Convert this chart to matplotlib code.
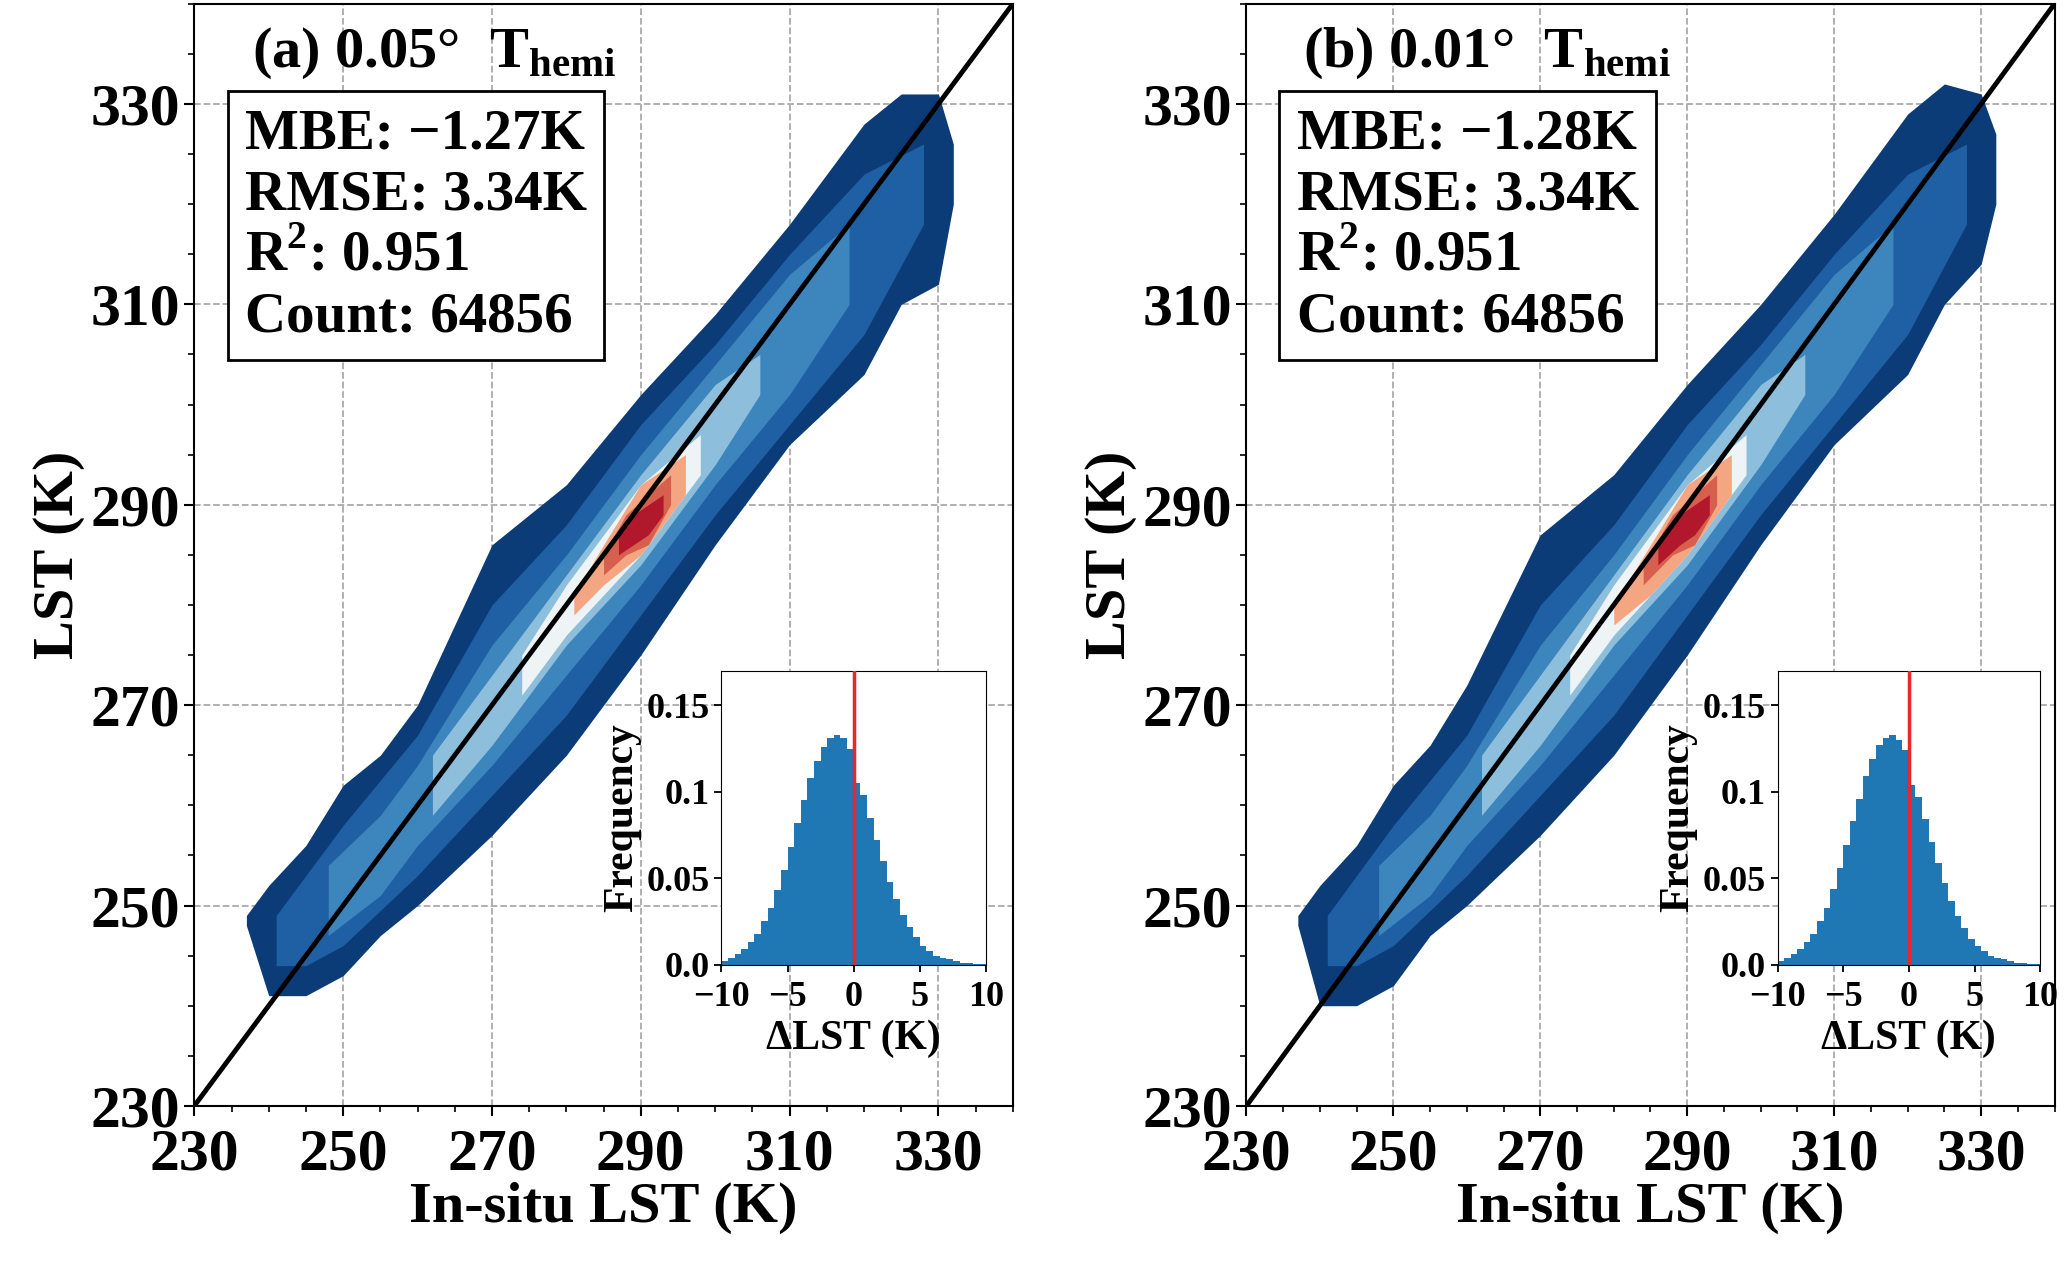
import numpy as np
import matplotlib.pyplot as plt
from matplotlib.ticker import MultipleLocator, FixedLocator, FixedFormatter

plt.rcParams['font.family'] = ['Liberation Serif', 'DejaVu Serif']
plt.rcParams['font.weight'] = 'bold'
plt.rcParams['mathtext.fontset'] = 'custom'
plt.rcParams['mathtext.rm'] = 'Liberation Serif:bold'
plt.rcParams['mathtext.bf'] = 'Liberation Serif:bold'

# density band outlines (x in K, lower / upper LST in K)
# each level: (x, lower, upper), outer -> inner
levels_a = [
    ([237, 240, 245, 250, 255, 260, 270, 280, 290, 300, 310, 320, 325, 330, 332],
     [248, 241, 241, 243, 247, 250, 257, 265, 275, 286, 296, 303, 310, 312, 320],
     [249, 252, 256, 262, 265, 270, 286, 292, 301, 309, 318, 328, 331, 331, 326]),
    ([241, 245, 250, 260, 270, 280, 290, 300, 310, 320, 328],
     [244, 244, 246, 253, 261, 269, 279, 289, 298, 307, 318],
     [249, 253, 258, 267, 280, 288, 298, 306, 315, 323, 326]),
    ([248, 255, 260, 270, 280, 290, 300, 310, 318],
     [247, 251, 256, 264, 273, 282, 292, 301, 310],
     [254, 259, 264, 276, 285, 295, 304, 313, 318]),
    ([262, 270, 280, 290, 300, 306],
     [259, 266, 276, 284, 294, 301],
     [265, 273, 283, 293, 302, 305]),
    ([274, 280, 290, 298],
     [271, 277, 285, 293],
     [275, 282, 292, 297]),
    ([281, 285, 290, 296],
     [279, 282, 285, 291],
     [281, 286, 292, 295]),
    ([285, 288, 291, 294],
     [283, 285, 286, 290],
     [285, 289, 291, 293]),
    ([287, 289, 291, 293],
     [285, 286, 287, 289],
     [287, 289, 290, 291]),
]
levels_b = [
    ([237, 240, 245, 250, 255, 260, 270, 280, 290, 300, 310, 320, 325, 330, 332],
     [248, 240, 240, 242, 247, 250, 257, 265, 275, 286, 296, 303, 310, 314, 320],
     [249, 252, 256, 262, 266, 272, 287, 293, 302, 310, 319, 329, 332, 331, 327]),
    ([241, 245, 250, 260, 270, 280, 290, 300, 310, 320, 328],
     [244, 244, 246, 253, 261, 269, 279, 289, 298, 307, 318],
     [249, 253, 258, 267, 280, 288, 298, 306, 315, 323, 326]),
    ([248, 255, 260, 270, 280, 290, 300, 310, 318],
     [247, 251, 256, 264, 273, 282, 292, 301, 310],
     [254, 259, 264, 276, 285, 295, 304, 313, 318]),
    ([262, 270, 280, 290, 300, 306],
     [259, 266, 276, 284, 294, 301],
     [265, 273, 283, 293, 302, 305]),
    ([274, 280, 290, 298],
     [271, 277, 285, 293],
     [275, 282, 292, 297]),
    ([280, 285, 290, 296],
     [278, 281, 285, 291],
     [280, 286, 292, 295]),
    ([284, 288, 291, 294],
     [282, 285, 286, 290],
     [284, 289, 291, 293]),
    ([286, 289, 291, 293],
     [284, 286, 287, 289],
     [286, 289, 290, 291]),
]
level_colors = ['#0b3c78', '#1f5fa3', '#3d85bd', '#8dbfdc', '#eef3f6',
                '#f4a582', '#d6604d', '#b2182b']

# histogram of LST difference (bin centres, frequency)
hist_x = np.arange(-9.75, 10, 0.5)
hist_a = [0.002, 0.004, 0.006, 0.009, 0.013, 0.018, 0.025, 0.033, 0.043, 0.055,
          0.068, 0.082, 0.095, 0.108, 0.118, 0.126, 0.131, 0.133, 0.131, 0.125,
          0.105, 0.098, 0.085, 0.072, 0.060, 0.048, 0.038, 0.029, 0.022, 0.016,
          0.011, 0.008, 0.005, 0.004, 0.003, 0.002, 0.001, 0.001, 0.0005, 0.0003]
hist_b = [0.002, 0.004, 0.006, 0.009, 0.013, 0.018, 0.025, 0.033, 0.044, 0.056,
          0.069, 0.083, 0.096, 0.109, 0.119, 0.127, 0.131, 0.133, 0.130, 0.124,
          0.104, 0.097, 0.084, 0.071, 0.059, 0.047, 0.037, 0.028, 0.021, 0.015,
          0.011, 0.008, 0.005, 0.004, 0.003, 0.002, 0.001, 0.001, 0.0005, 0.0003]

titles = ['(a) 0.05°  T$_{\\mathbf{hemi}}$', '(b) 0.01°  T$_{\\mathbf{hemi}}$']
stats = ['MBE: \u22121.27K\nRMSE: 3.34K\nR$^{\\mathbf{2}}$: 0.951\nCount: 64856',
         'MBE: \u22121.28K\nRMSE: 3.34K\nR$^{\\mathbf{2}}$: 0.951\nCount: 64856']

fig = plt.figure(figsize=(20.67, 12.61), dpi=100)
main_pos = [[0.094, 0.123, 0.396, 0.874], [0.603, 0.123, 0.391, 0.874]]
inset_pos = [[0.349, 0.235, 0.128, 0.233], [0.860, 0.235, 0.127, 0.233]]

for i, (levels, hist) in enumerate([(levels_a, hist_a), (levels_b, hist_b)]):
    ax = fig.add_axes(main_pos[i])
    for (x, lo, hi), c in zip(levels, level_colors):
        ax.fill_between(x, lo, hi, color=c, lw=0, zorder=2)
    ax.plot([230, 340], [230, 340], color='black', lw=3.5, zorder=3)
    ax.set_xlim(230, 340)
    ax.set_ylim(230, 340)
    ax.set_xticks(range(230, 340, 20))
    ax.set_yticks(range(230, 340, 20))
    ax.xaxis.set_minor_locator(MultipleLocator(5))
    ax.yaxis.set_minor_locator(MultipleLocator(5))
    ax.tick_params(labelsize=43, width=1.5, length=7)
    ax.tick_params(axis='x', pad=9)
    ax.tick_params(which='minor', length=4, width=1.2)
    ax.grid(True, ls='--', color='#aaaaaa', lw=1.3, zorder=0)
    ax.set_axisbelow(True)
    for s in ax.spines.values():
        s.set_linewidth(1.5)
    ax.set_xlabel('In-situ LST (K)', fontsize=42, fontweight='bold', labelpad=0)
    ax.set_ylabel('LST (K)', fontsize=42, fontweight='bold', labelpad=4)
    ax.text(0.07, 0.955, titles[i], transform=ax.transAxes, fontsize=42,
            fontweight='bold', va='center')
    ax.text(0.062, 0.905, stats[i], transform=ax.transAxes, fontsize=41,
            fontweight='bold', va='top', linespacing=1.22,
            bbox=dict(boxstyle='square,pad=0.3', fc='white', ec='black', lw=2))

    ins = fig.add_axes(inset_pos[i])
    ins.bar(hist_x, hist, width=0.5, color='#1f77b4', zorder=2)
    ins.axvline(0, color='#e8262b', lw=2.5, zorder=3)
    ins.set_xlim(-10, 10)
    ins.set_ylim(0, 0.17)
    ins.set_xticks([-10, -5, 0, 5, 10])
    ins.yaxis.set_major_locator(FixedLocator([0, 0.05, 0.1, 0.15]))
    ins.yaxis.set_major_formatter(FixedFormatter(['0.0', '0.05', '0.1', '0.15']))
    ins.tick_params(labelsize=26, width=1.3, length=5)
    ins.tick_params(axis='x', pad=7)
    ins.set_xlabel('\u0394LST (K)', fontsize=30, fontweight='bold')
    ins.set_ylabel('Frequency', fontsize=30, fontweight='bold')

fig.savefig('out.png', dpi=100)
